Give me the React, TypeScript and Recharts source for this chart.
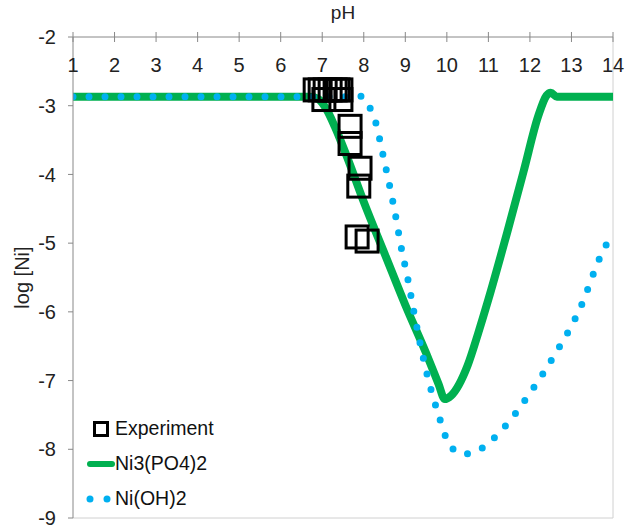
import { ComposedChart, Line, Scatter, XAxis, YAxis, ReferenceLine } from 'recharts';

// tick values
const phTicks = [1, 2, 3, 4, 5, 6, 7, 8, 9, 10, 11, 12, 13, 14];
const logTicks = [-9, -8, -7, -6, -5, -4, -3, -2];

// Ni3(PO4)2 solubility curve
const phosphatePh = [1, 6.7, 6.9, 7.1, 7.3, 7.6, 8.0, 8.5, 9.0, 9.5, 9.8, 9.95, 10.1, 10.5, 10.75, 11.0, 11.45, 11.85, 12.2, 12.4, 12.5, 12.65, 14];
const phosphateLog = [-2.87, -2.87, -2.9, -3.05, -3.3, -3.75, -4.4, -5.15, -5.9, -6.6, -7.05, -7.27, -7.22, -6.78, -6.32, -5.82, -4.85, -3.95, -3.15, -2.85, -2.81, -2.87, -2.87];

// Ni(OH)2 solubility curve
const hydroxidePh = [1, 7.8, 7.96, 8.15, 8.3, 8.45, 8.6, 8.75, 8.9, 9.06, 9.2, 9.5, 9.8, 10.08, 10.4, 10.77, 11.35, 12.05, 12.65, 13.2, 13.7, 13.9];
const hydroxideLog = [-2.87, -2.87, -2.86, -3.03, -3.27, -3.68, -4.1, -4.55, -5.06, -5.52, -5.98, -6.85, -7.5, -7.95, -8.07, -8.01, -7.7, -7.14, -6.57, -5.96, -5.19, -4.95];

// measured points
const expPh = [6.83, 6.95, 7.07, 7.19, 7.31, 7.38, 7.45, 7.04, 7.45, 7.67, 7.67, 7.91, 7.88, 7.84, 8.08];
const expLog = [-2.77, -2.77, -2.77, -2.77, -2.77, -2.77, -2.77, -2.91, -2.91, -3.3, -3.55, -3.91, -4.17, -4.91, -4.97];

const phosphate = phosphatePh.map((x, i) => ({ x, y: phosphateLog[i] }));
const hydroxide = hydroxidePh.map((x, i) => ({ x, y: hydroxideLog[i] }));
const experiment = expPh.map((x, i) => ({ x, y: expLog[i] }));

const FONT = '"Liberation Sans", Arial, sans-serif';
const GREEN = '#00b050';
const BLUE = '#00b0f0';

// top axis tick: short mark across the line, label inside the plot
const TopTick = ({ x, y, payload }: any) => (
  <g>
    <line x1={x} x2={x} y1={y - 5} y2={y + 5} stroke="#888" />
    <text x={x} y={y + 35} textAnchor="middle" fontSize={20} fill="#222" fontFamily={FONT}>
      {payload.value}
    </text>
  </g>
);

const SquareMark = ({ cx, cy }: any) => (
  <rect x={cx - 11} y={cy - 11} width={22} height={22} fill="none" stroke="#000" strokeWidth={3} />
);

const YTitle = ({ viewBox }: any) => {
  const x = viewBox.x + 9;
  const y = viewBox.y + viewBox.height / 2;
  return (
    <text x={x} y={y} transform={`rotate(-90 ${x} ${y})`} textAnchor="middle" dominantBaseline="central"
      fontSize={20} fill="#222" fontFamily={FONT}>
      log [Ni]
    </text>
  );
};

const LegendBox = () => {
  const row = { display: 'flex', alignItems: 'center', height: 35 };
  const label = { fontSize: 19.5, color: '#111', fontFamily: FONT };
  return (
    <div style={{ position: 'absolute', left: 86, top: 411 }}>
      <div style={row}>
        <svg width={29} height={20}>
          <rect x={8.5} y={3.5} width={13} height={13} fill="none" stroke="#000" strokeWidth={3} />
        </svg>
        <span style={label}>Experiment</span>
      </div>
      <div style={row}>
        <svg width={29} height={20}>
          <line x1={4} x2={26} y1={10} y2={10} stroke={GREEN} strokeWidth={6} strokeLinecap="round" />
        </svg>
        <span style={label}>Ni3(PO4)2</span>
      </div>
      <div style={row}>
        <svg width={29} height={20}>
          <circle cx={4} cy={10} r={3.5} fill={BLUE} />
          <circle cx={21} cy={10} r={3.5} fill={BLUE} />
        </svg>
        <span style={label}>Ni(OH)2</span>
      </div>
    </div>
  );
};

export default function App() {
  return (
    <div style={{ position: 'absolute', left: 0, top: 0, width: 638, height: 529, background: '#fff' }}>
      <ComposedChart width={638} height={529} margin={{ top: 7, left: 13, right: 25, bottom: 11 }}>
        <XAxis
          dataKey="x"
          type="number"
          orientation="top"
          domain={[1, 14]}
          ticks={phTicks}
          interval={0}
          height={30}
          tickSize={0}
          tickMargin={0}
          tickLine={false}
          tick={<TopTick />}
          stroke="#888"
          allowDataOverflow
          label={{ value: 'pH', position: 'insideTop', offset: -1, fontSize: 19, fill: '#222', fontFamily: FONT }}
        />
        <YAxis
          type="number"
          domain={[-9, -2]}
          ticks={logTicks}
          interval={0}
          width={60}
          tickSize={5}
          tickMargin={12}
          stroke="#888"
          tick={{ fontSize: 20, fill: '#222', fontFamily: FONT }}
          allowDataOverflow
          label={<YTitle />}
        />
        <ReferenceLine x={14} stroke="#d0d0d0" />
        <ReferenceLine y={-9} stroke="#d0d0d0" />
        <Line
          data={phosphate}
          dataKey="y"
          name="Ni3(PO4)2"
          type="monotone"
          stroke={GREEN}
          strokeWidth={8}
          strokeLinejoin="round"
          dot={false}
          activeDot={false}
          isAnimationActive={false}
        />
        <Line
          data={hydroxide}
          dataKey="y"
          name="Ni(OH)2"
          type="monotone"
          stroke={BLUE}
          strokeWidth={7}
          strokeDasharray="0 16"
          strokeLinecap="round"
          dot={false}
          activeDot={false}
          isAnimationActive={false}
        />
        <Scatter
          data={experiment}
          dataKey="y"
          name="Experiment"
          shape={<SquareMark />}
          isAnimationActive={false}
        />
      </ComposedChart>
      <LegendBox />
    </div>
  );
}
